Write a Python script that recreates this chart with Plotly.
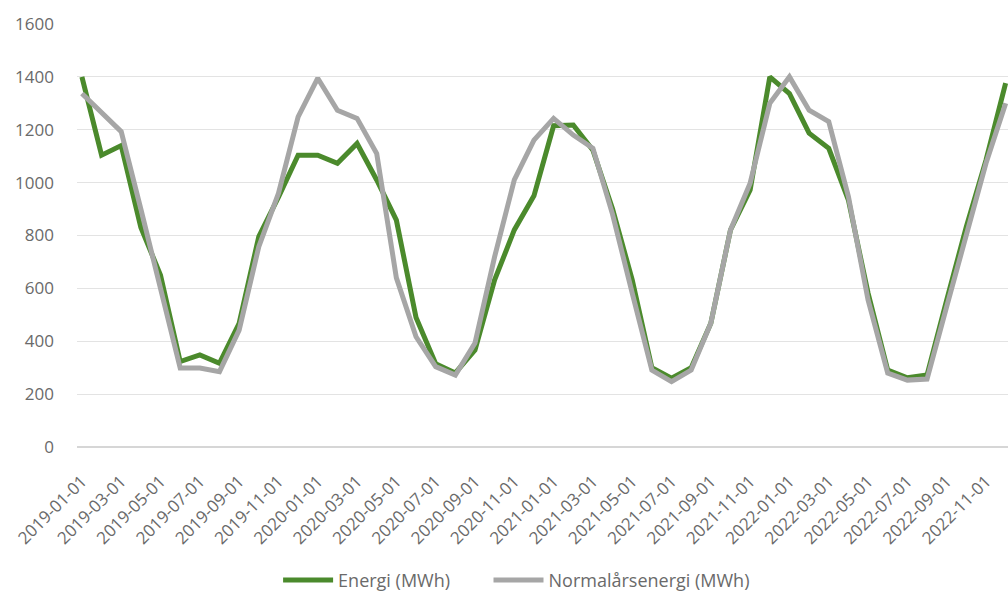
import plotly.graph_objects as go

# Monthly energy use, 2019-01 .. 2022-12
months = [f"{y}-{m:02d}-01" for y in range(2019, 2023) for m in range(1, 13)]

energi_mwh = [1400, 1104, 1140, 830, 650, 323, 348, 317, 468, 796, 945, 1104,
              1104, 1073, 1148, 1010, 858, 490, 315, 280, 367, 632, 821, 950,
              1215, 1218, 1123, 900, 632, 300, 260, 300, 468, 821, 972, 1400,
              1337, 1187, 1130, 934, 582, 291, 262, 272, 556, 833, 1085, 1376]

normalar_mwh = [1337, 1262, 1193, 900, 594, 299, 299, 285, 442, 758, 959, 1249,
                1395, 1274, 1243, 1110, 640, 417, 304, 272, 393, 720, 1010, 1161,
                1243, 1180, 1130, 880, 582, 291, 247, 291, 468, 821, 998, 1300,
                1400, 1274, 1231, 947, 556, 280, 253, 257, 531, 808, 1073, 1300]

tick_labels = months[::2]
y_ticks = [0, 200, 400, 600, 800, 1000, 1200, 1400, 1600]

GREEN = "#4B8A2C"
GREY = "#A6A6A6"
TEXT = "#6A6A6A"
FONT = "Open Sans"

fig = go.Figure()
fig.add_trace(go.Scatter(x=months, y=energi_mwh, mode="lines", name="Energi (MWh)",
                         line=dict(color=GREEN, width=5), legend="legend"))
fig.add_trace(go.Scatter(x=months, y=normalar_mwh, mode="lines", name="Normalårsenergi (MWh)",
                         line=dict(color=GREY, width=5), legend="legend2"))

legend_style = dict(orientation="h", y=-0.315, yanchor="middle", xanchor="left",
                    font=dict(family=FONT, size=18, color=TEXT), itemwidth=50,
                    bgcolor="rgba(0,0,0,0)")

fig.update_layout(
    width=1008, height=594,
    margin=dict(l=77, r=0, t=24, b=147, autoexpand=False),
    paper_bgcolor="white", plot_bgcolor="white",
    font=dict(family=FONT, size=16, color=TEXT),
    showlegend=True,
    legend=dict(x=0.216, **legend_style),
    legend2=dict(x=0.442, **legend_style),
    xaxis=dict(type="category", categoryorder="array", categoryarray=months,
               range=[-0.25, 47.12], tickmode="array", tickvals=tick_labels,
               ticktext=tick_labels, tickangle=-45, showgrid=False,
               showline=False, zeroline=False, ticks="", automargin=False,
               ticklabelstandoff=20,
               tickfont=dict(family=FONT, size=17, color=TEXT)),
    yaxis=dict(range=[0, 1600], tickmode="array", tickvals=y_ticks,
               showgrid=True, gridcolor="#E3E3E3", gridwidth=1.3,
               zeroline=True, zerolinecolor="#D6D6D6", zerolinewidth=2,
               showline=False, ticks="", ticklabelstandoff=22, automargin=False,
               tickfont=dict(family=FONT, size=17, color=TEXT)),
)

fig.write_html("out.html")
